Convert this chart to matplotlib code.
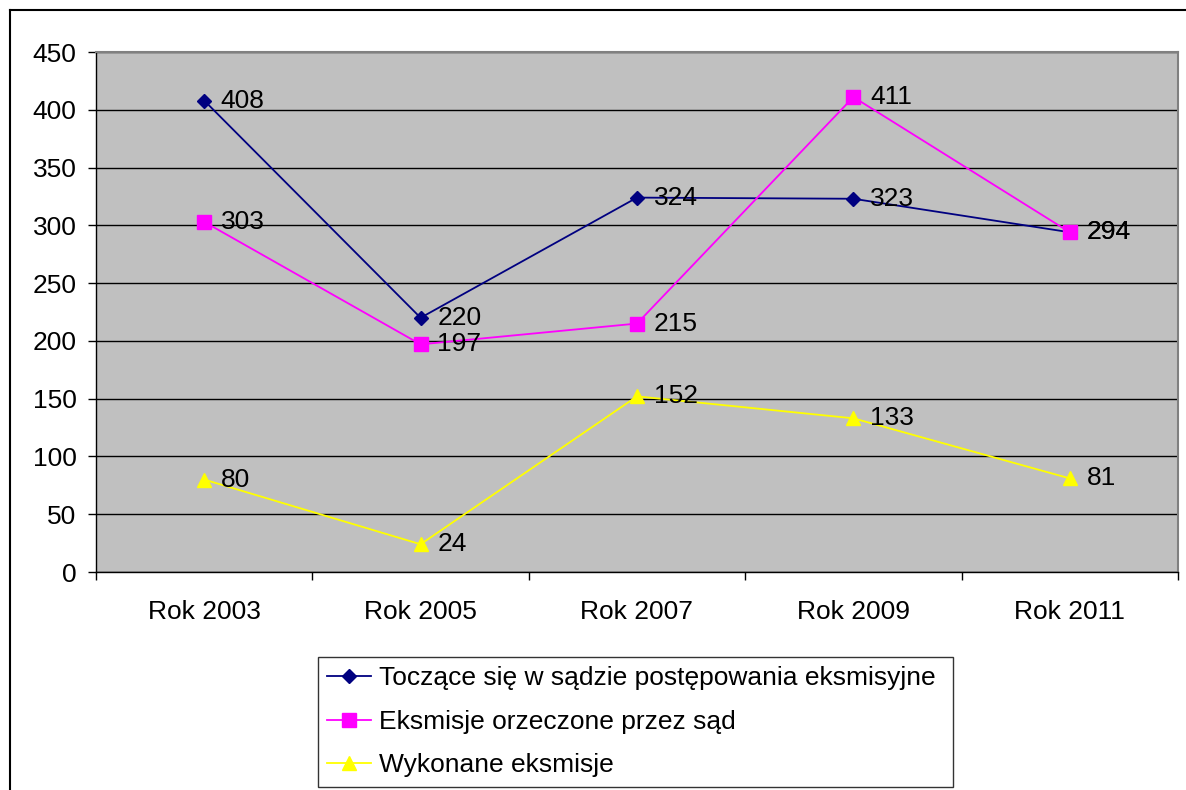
import matplotlib
matplotlib.use("Agg")
import matplotlib.pyplot as plt
from matplotlib.lines import Line2D

plt.rcParams['font.family'] = ['Liberation Sans', 'DejaVu Sans']

# data
years = ["Rok 2003", "Rok 2005", "Rok 2007", "Rok 2009", "Rok 2011"]
toczace = [408, 220, 324, 323, 294]
orzeczone = [303, 197, 215, 411, 294]
wykonane = [80, 24, 152, 133, 81]
series_names = ["Toczące się w sądzie postępowania eksmisyjne",
                "Eksmisje orzeczone przez sąd",
                "Wykonane eksmisje"]

W, H = 1186, 790
FS = 19
fig = plt.figure(figsize=(W / 100, H / 100), dpi=100)
ax = fig.add_axes([96 / W, (H - 572) / H, (1178 - 96) / W, 520 / H])
ax.set_facecolor('#c0c0c0')

x = list(range(len(years)))
styles = [
    (toczace, '#000080', 'D', 7.5),
    (orzeczone, '#ff00ff', 's', 9.5),
    (wykonane, '#ffff00', '^', 10),
]
for (vals, col, mk, ms), name in zip(styles, series_names):
    ax.plot(x, vals, color=col, lw=1.3, marker=mk, markersize=ms,
            markerfacecolor=col, markeredgecolor=col, label=name, zorder=3)
    for xi, v in zip(x, vals):
        ax.annotate(str(v), (xi, v), xytext=(12, 0), textcoords='offset points',
                    ha='left', va='center', fontsize=FS, color='black', zorder=4)

ax.set_xlim(-0.5, len(years) - 0.5)
ax.set_ylim(0, 450)
ax.set_yticks(range(0, 451, 50))
ax.yaxis.grid(True, color='black', lw=1)
ax.set_axisbelow(True)

ax.set_xticks(x)
ax.set_xticklabels(years)
ax.set_xticks([i + 0.5 for i in range(-1, len(years))], minor=True)
ax.tick_params(axis='x', which='major', length=0, pad=20, labelsize=FS)
ax.tick_params(axis='x', which='minor', length=6, width=1, direction='out', color='black')
ax.tick_params(axis='y', length=6, width=1, pad=8, labelsize=FS, color='black')

for side in ['top', 'right']:
    ax.spines[side].set_color('#808080')
    ax.spines[side].set_linewidth(1.5)
for side in ['left', 'bottom']:
    ax.spines[side].set_color('black')
    ax.spines[side].set_linewidth(1)

leg = fig.legend(loc='upper left', bbox_to_anchor=(318 / W, (H - 657) / H, (953 - 318) / W, 0),
                 mode='expand', fontsize=FS, frameon=True, fancybox=False,
                 edgecolor='black', handlelength=1.65, handletextpad=0.3,
                 labelspacing=0.74, borderpad=0.35, borderaxespad=0)
leg.get_frame().set_linewidth(1)

# outer chart frame
fig.add_artist(Line2D([10 / W, 10 / W], [0, (H - 10) / H], color='black', lw=1.5,
                      transform=fig.transFigure))
fig.add_artist(Line2D([10 / W, 1], [(H - 10) / H, (H - 10) / H], color='black', lw=1.5,
                      transform=fig.transFigure))

fig.savefig('out.png', dpi=100)
